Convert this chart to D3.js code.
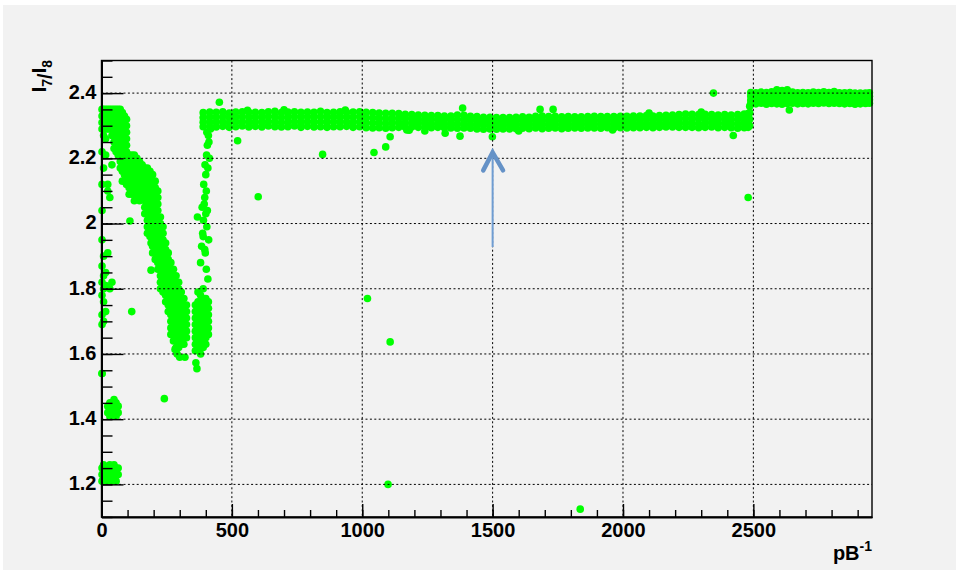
<!DOCTYPE html>
<html>
<head>
<meta charset="utf-8">
<script src="https://cdn.jsdelivr.net/npm/d3@7"></script>
<style>
  body { margin: 0; background: #ffffff; }
  text { font-family: "Liberation Sans", Arial, sans-serif; font-weight: bold; }
</style>
</head>
<body>
<div id="chart"></div>
<script>
// ratio I7/I8 versus integrated luminosity (pB^-1)

// dense blocks at low luminosity: [x, [y values]]
const earlyCols = [
  [2, [2.35, 2.33, 2.31, 2.29, 2.22, 2.12, 2.04, 1.95, 1.87, 1.82, 1.78, 1.72, 1.69, 1.54, 1.25, 1.23, 1.21]],
  [8, [2.35, 2.33, 2.31, 2.29, 2.27, 2.17, 1.90, 1.84, 1.80, 1.76, 1.70, 1.26, 1.24, 1.22]],
  [16, [2.35, 2.33, 2.31, 2.29, 2.26, 2.21, 1.85, 1.81, 1.73, 1.25, 1.23, 1.21]],
  [24, [2.35, 2.33, 2.31, 2.29, 2.12, 2.10, 1.91, 1.44, 1.42, 1.25, 1.23, 1.21]],
  [32, [2.35, 2.33, 2.31, 2.29, 2.08, 1.80, 1.45, 1.43, 1.41, 1.26, 1.24, 1.22]],
  [40, [2.35, 2.33, 2.31, 2.29, 2.27, 2.18, 1.82, 1.45, 1.43, 1.41, 1.25, 1.23, 1.21]],
  [48, [2.35, 2.33, 2.31, 2.29, 2.27, 2.25, 2.23, 1.46, 1.44, 1.42, 1.26, 1.24, 1.22]],
  [56, [2.35, 2.33, 2.31, 2.29, 2.27, 2.25, 2.22, 1.45, 1.43, 1.41, 1.25, 1.23, 1.21]],
  [64, [2.35, 2.33, 2.31, 2.29, 2.27, 2.25, 2.23, 2.21, 1.44, 1.42, 1.25, 1.23]],
  [72, [2.35, 2.33, 2.31, 2.29, 2.27, 2.25, 2.23, 2.21, 2.19, 2.17]],
  [80, [2.34, 2.32, 2.30, 2.28, 2.26, 2.24, 2.22, 2.20, 2.18, 2.16, 2.13]],
  [88, [2.33, 2.31, 2.29, 2.27, 2.25, 2.23, 2.21, 2.19, 2.17, 2.15]],
  [96, [2.32, 2.30, 2.28, 2.26, 2.24, 2.22, 2.20, 2.18, 2.16, 2.14, 2.12]],
  [106, [2.21, 2.19, 2.17, 2.15, 2.13, 2.11, 2.09]],
  [116, [2.21, 2.19, 2.17, 2.15, 2.13, 2.11, 2.09]],
  [126, [2.21, 2.19, 2.17, 2.15, 2.13, 2.11, 2.09, 2.07]],
  [136, [2.20, 2.18, 2.16, 2.14, 2.12, 2.10, 2.08]],
  [146, [2.19, 2.17, 2.15, 2.13, 2.11, 2.09, 2.07]],
  [156, [2.18, 2.16, 2.14, 2.12, 2.10, 2.08]],
  [166, [2.17, 2.15, 2.13, 2.11, 2.09, 2.07, 2.05, 2.03]],
  [176, [2.17, 2.15, 2.13, 2.11, 2.09, 2.07, 2.05, 2.03, 2.01, 1.99, 1.97]],
  [186, [2.16, 2.14, 2.12, 2.10, 2.08, 2.06, 2.04, 2.02, 2.00, 1.98, 1.96]],
  [196, [2.15, 2.13, 2.11, 2.09, 2.07, 2.05, 2.03, 2.01, 1.99, 1.97, 1.95, 1.93, 1.91]],
  [206, [2.13, 2.11, 2.09, 2.07, 2.05, 2.03, 2.01, 1.99, 1.97, 1.95, 1.93, 1.91, 1.89]],
  [216, [2.10, 2.08, 2.06, 2.04, 2.02, 2.00, 1.98, 1.96, 1.94, 1.92, 1.90, 1.88, 1.86]],
  [226, [2.02, 2.00, 1.98, 1.96, 1.94, 1.92, 1.90, 1.88, 1.86, 1.84, 1.82, 1.80]],
  [236, [1.99, 1.97, 1.95, 1.93, 1.91, 1.89, 1.87, 1.85, 1.83, 1.81, 1.79]],
  [246, [1.94, 1.92, 1.90, 1.88, 1.86, 1.84, 1.82, 1.80, 1.78, 1.76]],
  [256, [1.91, 1.89, 1.87, 1.85, 1.83, 1.81, 1.79, 1.77, 1.75, 1.73]],
  [266, [1.88, 1.86, 1.84, 1.82, 1.80, 1.78, 1.76, 1.74, 1.72, 1.70, 1.68, 1.66]],
  [276, [1.86, 1.84, 1.82, 1.80, 1.78, 1.76, 1.74, 1.72, 1.70, 1.68, 1.66, 1.64]],
  [286, [1.84, 1.82, 1.80, 1.78, 1.76, 1.74, 1.72, 1.70, 1.68, 1.66, 1.64, 1.62]],
  [296, [1.82, 1.80, 1.78, 1.76, 1.74, 1.72, 1.70, 1.68, 1.66, 1.64, 1.62]],
  [306, [1.79, 1.77, 1.75, 1.73, 1.71, 1.69, 1.67, 1.65, 1.63]],
  [316, [1.77, 1.75, 1.73, 1.71, 1.69, 1.67, 1.65, 1.63]],
  [326, [1.75, 1.73, 1.71, 1.69, 1.67, 1.65]],
  [360, [1.75, 1.73, 1.71, 1.69, 1.67, 1.65, 1.63, 1.61]],
  [370, [1.79, 1.76, 1.74, 1.72, 1.70, 1.68, 1.66, 1.64, 1.62]],
  [380, [1.78, 1.76, 1.74, 1.72, 1.70, 1.68, 1.66, 1.64, 1.62, 1.60]],
  [390, [1.80, 1.76, 1.74, 1.72, 1.70, 1.68, 1.66, 1.64, 1.62]],
  [400, [1.77, 1.75, 1.73, 1.71, 1.69, 1.67, 1.65, 1.63]],
  [410, [1.76, 1.74, 1.72, 1.70, 1.68, 1.66]],
  [2486, [2.30, 2.32, 2.34, 2.36]]
];

// recovery column around 400 pB^-1
const risePts = [
  [380, 1.88], [384, 1.93], [388, 1.97], [391, 2.01], [386, 2.05], [396, 2.08],
  [392, 2.12], [400, 2.15], [397, 2.18], [403, 2.21], [406, 2.24], [410, 2.27],
  [412, 2.25], [402, 2.10], [406, 2.04], [404, 1.99], [411, 1.95], [398, 1.91],
  [402, 1.86], [408, 1.83], [394, 2.06], [400, 2.03], [414, 2.20], [408, 2.17],
  [390, 1.96], [418, 2.29], [404, 2.28], [396, 1.92]
];

// plateau 390..2480: [x, low, lower-mid, upper-mid, high]
const mainBand = [
  [390, 2.297, 2.311, 2.325, 2.340], [415, 2.298, 2.312, 2.327, 2.342], [440, 2.296, 2.311, 2.326, 2.341],
  [465, 2.298, 2.313, 2.328, 2.343], [490, 2.295, 2.310, 2.325, 2.339], [515, 2.297, 2.312, 2.327, 2.342],
  [540, 2.299, 2.313, 2.328, 2.343], [565, 2.296, 2.311, 2.326, 2.341], [590, 2.298, 2.312, 2.327, 2.341],
  [615, 2.296, 2.311, 2.326, 2.340], [640, 2.299, 2.313, 2.328, 2.343], [665, 2.297, 2.312, 2.328, 2.344],
  [690, 2.296, 2.310, 2.325, 2.340], [715, 2.297, 2.312, 2.327, 2.342], [740, 2.299, 2.313, 2.328, 2.343],
  [765, 2.295, 2.310, 2.326, 2.341], [790, 2.298, 2.313, 2.328, 2.342], [815, 2.296, 2.311, 2.326, 2.341],
  [840, 2.297, 2.312, 2.328, 2.344], [865, 2.295, 2.310, 2.325, 2.340], [890, 2.297, 2.312, 2.327, 2.341],
  [915, 2.297, 2.312, 2.328, 2.343], [940, 2.298, 2.312, 2.327, 2.341], [965, 2.295, 2.310, 2.326, 2.342],
  [990, 2.297, 2.312, 2.328, 2.343], [1015, 2.294, 2.309, 2.325, 2.341], [1040, 2.293, 2.308, 2.324, 2.340],
  [1065, 2.294, 2.309, 2.324, 2.339], [1090, 2.292, 2.307, 2.322, 2.338], [1115, 2.294, 2.309, 2.323, 2.338],
  [1140, 2.295, 2.309, 2.323, 2.337], [1165, 2.295, 2.308, 2.322, 2.335], [1190, 2.296, 2.309, 2.322, 2.334],
  [1215, 2.295, 2.308, 2.320, 2.333], [1240, 2.296, 2.308, 2.320, 2.332], [1265, 2.294, 2.306, 2.319, 2.331],
  [1290, 2.295, 2.307, 2.319, 2.331], [1315, 2.294, 2.306, 2.318, 2.330], [1340, 2.293, 2.305, 2.318, 2.330],
  [1365, 2.292, 2.305, 2.319, 2.333], [1390, 2.293, 2.306, 2.319, 2.332], [1415, 2.292, 2.304, 2.317, 2.329],
  [1440, 2.290, 2.303, 2.315, 2.328], [1465, 2.289, 2.302, 2.314, 2.326], [1490, 2.290, 2.302, 2.314, 2.326],
  [1515, 2.289, 2.301, 2.313, 2.325], [1540, 2.290, 2.302, 2.314, 2.325], [1565, 2.290, 2.302, 2.314, 2.325],
  [1590, 2.291, 2.303, 2.315, 2.326], [1615, 2.292, 2.304, 2.316, 2.327], [1640, 2.291, 2.303, 2.315, 2.326],
  [1665, 2.293, 2.305, 2.317, 2.329], [1690, 2.291, 2.304, 2.317, 2.330], [1715, 2.292, 2.304, 2.316, 2.328],
  [1740, 2.293, 2.305, 2.317, 2.329], [1765, 2.291, 2.303, 2.315, 2.327], [1790, 2.292, 2.304, 2.316, 2.328],
  [1815, 2.293, 2.304, 2.316, 2.327], [1840, 2.292, 2.304, 2.315, 2.327], [1865, 2.293, 2.305, 2.316, 2.328],
  [1890, 2.293, 2.305, 2.317, 2.329], [1915, 2.292, 2.304, 2.316, 2.328], [1940, 2.294, 2.305, 2.317, 2.328],
  [1965, 2.293, 2.305, 2.316, 2.328], [1990, 2.294, 2.306, 2.317, 2.329], [2015, 2.293, 2.305, 2.317, 2.329],
  [2040, 2.294, 2.306, 2.318, 2.330], [2065, 2.294, 2.306, 2.318, 2.330], [2090, 2.295, 2.307, 2.319, 2.331],
  [2115, 2.294, 2.306, 2.318, 2.330], [2140, 2.295, 2.307, 2.319, 2.331], [2165, 2.296, 2.308, 2.320, 2.332],
  [2190, 2.296, 2.308, 2.321, 2.333], [2215, 2.295, 2.308, 2.321, 2.334], [2240, 2.295, 2.308, 2.322, 2.336],
  [2265, 2.295, 2.308, 2.321, 2.335], [2290, 2.294, 2.307, 2.321, 2.334], [2315, 2.295, 2.308, 2.322, 2.335],
  [2340, 2.296, 2.309, 2.321, 2.334], [2365, 2.294, 2.307, 2.320, 2.333], [2390, 2.295, 2.308, 2.321, 2.334],
  [2415, 2.294, 2.307, 2.320, 2.333], [2440, 2.292, 2.306, 2.320, 2.334], [2465, 2.294, 2.308, 2.322, 2.336],
  [2480, 2.295, 2.309, 2.323, 2.337]
];

// plateau after 2490
const lateBand = [
  [2490, 2.368, 2.379, 2.391, 2.402], [2510, 2.367, 2.378, 2.390, 2.401], [2530, 2.369, 2.380, 2.392, 2.403],
  [2550, 2.366, 2.378, 2.390, 2.402], [2570, 2.368, 2.380, 2.392, 2.404], [2590, 2.367, 2.381, 2.396, 2.410],
  [2610, 2.366, 2.380, 2.394, 2.408], [2630, 2.368, 2.382, 2.396, 2.410], [2650, 2.369, 2.380, 2.392, 2.403],
  [2670, 2.367, 2.378, 2.390, 2.401], [2690, 2.368, 2.379, 2.391, 2.402], [2710, 2.367, 2.378, 2.390, 2.401],
  [2730, 2.369, 2.380, 2.392, 2.403], [2750, 2.368, 2.379, 2.391, 2.402], [2770, 2.370, 2.381, 2.393, 2.404],
  [2790, 2.368, 2.379, 2.391, 2.402], [2810, 2.369, 2.381, 2.393, 2.405], [2830, 2.368, 2.379, 2.390, 2.401],
  [2850, 2.367, 2.378, 2.390, 2.401], [2870, 2.368, 2.379, 2.391, 2.402], [2890, 2.366, 2.377, 2.389, 2.400],
  [2910, 2.367, 2.378, 2.389, 2.400], [2930, 2.368, 2.379, 2.389, 2.400], [2945, 2.369, 2.380, 2.390, 2.401]
];

// isolated points and edge bumps
const outliers = [
  [452, 2.372], [522, 2.254], [601, 2.082], [848, 2.212], [1045, 2.218], [1090, 2.235],
  [1020, 1.77], [1107, 1.637], [1099, 1.20], [1836, 1.124], [1375, 2.268], [1499, 2.266],
  [2480, 2.08], [2347, 2.40], [2423, 2.27], [2638, 2.348], [109, 2.008], [190, 1.94],
  [190, 1.857], [116, 1.73], [368, 2.02], [362, 1.573], [366, 1.555], [282, 1.614],
  [320, 1.59], [241, 1.463], [1107, 2.266], [1171, 2.287], [1318, 2.277], [1385, 2.354],
  [1682, 2.35], [1732, 2.35], [2, 1.54], [560, 2.347], [700, 2.349], [935, 2.348],
  [1180, 2.286], [1240, 2.284], [1600, 2.284], [1960, 2.287], [2100, 2.339], [2300, 2.342],
  [300, 1.59], [290, 1.60]
];

const xTicks = [0, 500, 1000, 1500, 2000, 2500];
const yTicks = [1.2, 1.4, 1.6, 1.8, 2, 2.2, 2.4];
const xTitle = "pB";
const yTitle = ["I", "7", "/", "I", "8"];

const width = 956, height = 570;

const svg = d3.select("#chart").append("svg")
    .attr("width", width)
    .attr("height", height);

svg.append("rect")
    .attr("x", 3).attr("y", 5)
    .attr("width", width - 3).attr("height", height - 5)
    .attr("fill", "#f2f2f2");

const x = d3.scaleLinear().domain([0, 2955]).range([101.5, 872]);
const y = d3.scaleLinear().domain([1.1, 2.5]).range([517, 60.5]);

// collect all points
let pts = [];
earlyCols.forEach(c => c[1].forEach(v => pts.push([c[0], v])));
risePts.forEach(p => pts.push(p));
mainBand.concat(lateBand).forEach(r => {
    r.slice(1).forEach(v => pts.push([r[0], v]));
});
outliers.forEach(p => pts.push(p));

svg.append("g").selectAll("circle")
    .data(pts)
    .enter()
    .append("circle")
    .attr("cx", d => x(d[0]))
    .attr("cy", d => y(d[1]))
    .attr("r", 3.8)
    .attr("fill", "#00ff00");

// grid
svg.append("g").selectAll("line")
    .data(yTicks)
    .enter()
    .append("line")
    .attr("x1", x(0)).attr("x2", 872)
    .attr("y1", d => y(d)).attr("y2", d => y(d))
    .attr("stroke", "#000").attr("stroke-width", 1)
    .attr("stroke-dasharray", "2,2.4");

svg.append("g").selectAll("line")
    .data(xTicks.slice(1))
    .enter()
    .append("line")
    .attr("x1", d => x(d)).attr("x2", d => x(d))
    .attr("y1", 60.5).attr("y2", 517)
    .attr("stroke", "#000").attr("stroke-width", 1)
    .attr("stroke-dasharray", "2,2.4");

// frame
svg.append("rect")
    .attr("x", 101.5).attr("y", 60.5)
    .attr("width", 872 - 101.5).attr("height", 517 - 60.5)
    .attr("fill", "none")
    .attr("stroke", "#000").attr("stroke-width", 1.4);

// minor ticks
const yMinor = d3.axisLeft(y).ticks(28).tickSizeInner(-11).tickSizeOuter(0).tickFormat("");
const xMinor = d3.axisBottom(x).tickValues(d3.range(0, 2955, 100)).tickSizeInner(-7).tickSizeOuter(0).tickFormat("");

svg.append("g").attr("transform", "translate(101.5,0)").call(yMinor)
    .call(g => g.selectAll("line").attr("stroke", "#000").attr("stroke-width", 1.4));
svg.append("g").attr("transform", "translate(0,517)").call(xMinor)
    .call(g => g.selectAll("line").attr("stroke", "#000").attr("stroke-width", 1.4));

// major ticks and labels
const yAxis = d3.axisLeft(y).tickValues(yTicks).tickSizeInner(-22).tickSizeOuter(0)
    .tickPadding(5).tickFormat(d3.format("~g"));
const xAxis = d3.axisBottom(x).tickValues(xTicks).tickSizeInner(-13).tickSizeOuter(0)
    .tickPadding(6).tickFormat(d3.format("d"));

svg.append("g").attr("transform", "translate(101.5,0)").call(yAxis)
    .call(g => g.select(".domain").attr("stroke", "#000").attr("stroke-width", 2))
    .call(g => g.selectAll("line").attr("stroke", "#000").attr("stroke-width", 1.4))
    .call(g => g.selectAll("text").attr("font-size", 20).attr("fill", "#000")
        .attr("font-family", "Liberation Sans, Arial, sans-serif").attr("font-weight", "bold")
        .attr("dy", "0.27em"));

svg.append("g").attr("transform", "translate(0,517)").call(xAxis)
    .call(g => g.select(".domain").attr("stroke", "#000").attr("stroke-width", 2))
    .call(g => g.selectAll("line").attr("stroke", "#000").attr("stroke-width", 1.4))
    .call(g => g.selectAll("text").attr("font-size", 20).attr("fill", "#000")
        .attr("font-family", "Liberation Sans, Arial, sans-serif").attr("font-weight", "bold"));

// axis titles
const xt = svg.append("text")
    .attr("x", 872).attr("y", 560)
    .attr("text-anchor", "end")
    .attr("font-size", 20);
xt.append("tspan").text(xTitle);
xt.append("tspan").attr("font-size", 14).attr("dy", -9).text("-1");

const yt = svg.append("text")
    .attr("transform", "translate(46,60) rotate(-90)")
    .attr("text-anchor", "end")
    .attr("font-size", 20);
yTitle.forEach((s, i) => {
    const sub = (i === 1 || i === 4);
    yt.append("tspan")
        .attr("font-size", sub ? 14 : 20)
        .attr("dy", sub ? 6 : (i === 2 || i === 0 ? 0 : -6))
        .text(s);
});

// arrow marking 1500 pB^-1
svg.append("line")
    .attr("x1", x(1500)).attr("x2", x(1500))
    .attr("y1", y(1.928)).attr("y2", y(2.214))
    .attr("stroke", "#6f9dd2").attr("stroke-width", 2);
svg.append("path")
    .attr("d", d3.line()([[x(1464), y(2.163)], [x(1500), y(2.218)], [x(1540), y(2.163)]]))
    .attr("fill", "none")
    .attr("stroke", "#6592c7").attr("stroke-width", 4.5)
    .attr("stroke-linecap", "round").attr("stroke-linejoin", "miter");
</script>
</body>
</html>
